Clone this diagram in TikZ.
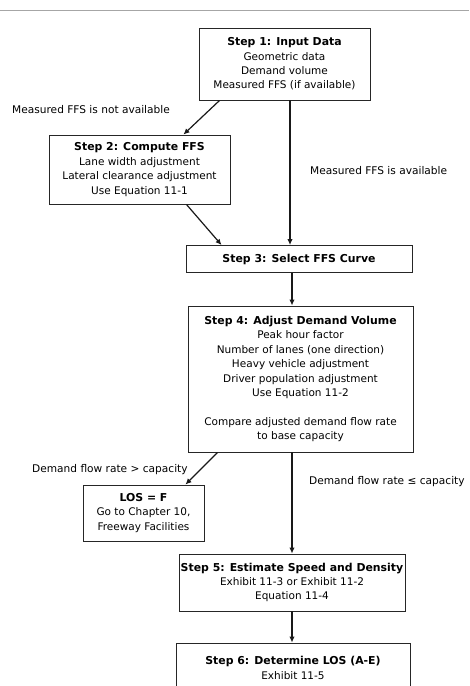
\documentclass[tikz,border=0pt]{standalone}
\usepackage{fontspec}
\setmainfont{DejaVu Sans}
\usetikzlibrary{arrows.meta}
\newcommand{\ttl}[1]{{\fontsize{10.9}{14.4}\selectfont\bfseries #1}}
\begin{document}
\begin{tikzpicture}[x=1pt,y=-1pt,
  box/.style={draw=black!85,line width=0.9pt,align=center,inner sep=0pt,font=\fontsize{10.5}{14.4}\selectfont},
  arr/.style={line width=1.2pt,black!90,-{Latex[length=6pt,width=5.5pt]}},
  lbl/.style={anchor=west,inner sep=0pt,font=\fontsize{10.6}{12}\selectfont}]
\clip (0,0) rectangle (469,686);
\fill[white] (0,0) rectangle (469,686);
\coordinate (tl) at (0,10);
\coordinate (tr) at (469,10);
\draw[gray!70,line width=0.8pt] (tl) -- (tr);

\node[box,minimum width=171pt,minimum height=72pt] (s1) at (284.5,64)
  {\ttl{Step 1: Input Data}\\Geometric data\\Demand volume\\Measured FFS (if available)};
\node[box,minimum width=181pt,minimum height=69pt] (s2) at (139.5,169.5)
  {\ttl{Step 2: Compute FFS}\\Lane width adjustment\\Lateral clearance adjustment\\Use Equation 11-1};
\node[box,minimum width=226pt,minimum height=27pt] (s3) at (299,259)
  {\ttl{Step 3: Select FFS Curve}};
\node[box,minimum width=225pt,minimum height=146pt] (s4) at (300.5,379)
  {\ttl{Step 4: Adjust Demand Volume}\\Peak hour factor\\Number of lanes (one direction)\\Heavy vehicle adjustment\\Driver population adjustment\\Use Equation 11-2\\[14.4pt]Compare adjusted demand flow rate\\to base capacity};
\node[box,minimum width=121pt,minimum height=56pt] (los) at (143.5,513)
  {\ttl{LOS = F}\\Go to Chapter 10,\\Freeway Facilities};
\node[box,minimum width=226pt,minimum height=57pt] (s5) at (292,582.5)
  {\ttl{Step 5: Estimate Speed and Density}\\Exhibit 11-3 or Exhibit 11-2\\Equation 11-4};
\node[box,minimum width=234pt,minimum height=50pt] (s6) at (293,668)
  {\ttl{Step 6: Determine LOS (A-E)}\\Exhibit 11-5};

\node[lbl] (l1) at (12,110) {Measured FFS is not available};
\node[lbl] (l2) at (310,171) {Measured FFS is available};
\node[lbl] (l3) at (32,470) {Demand flow rate > capacity};
\node[lbl] (l4) at (309,482) {Demand flow rate ≤ capacity};

\draw[arr] ([xshift=21pt]s1.south west) -- ([xshift=-47pt]s2.north east);
\draw[arr] ([xshift=5.5pt]s1.south) -- ([xshift=5.5pt]s1.south |- s3.north);
\draw[arr] ([xshift=-44pt]s2.south east) -- ([xshift=36pt]s3.north west);
\draw[arr] ([xshift=-7pt]s3.south) -- ([xshift=-7pt]s3.south |- s4.north);
\draw[arr] ([xshift=30pt]s4.south west) -- ([xshift=-19pt]los.north east);
\draw[arr] (s5.north |- s4.south) -- (s5.north);
\draw[arr] (s5.south) -- (s5.south |- s6.north);
\end{tikzpicture}
\end{document}
